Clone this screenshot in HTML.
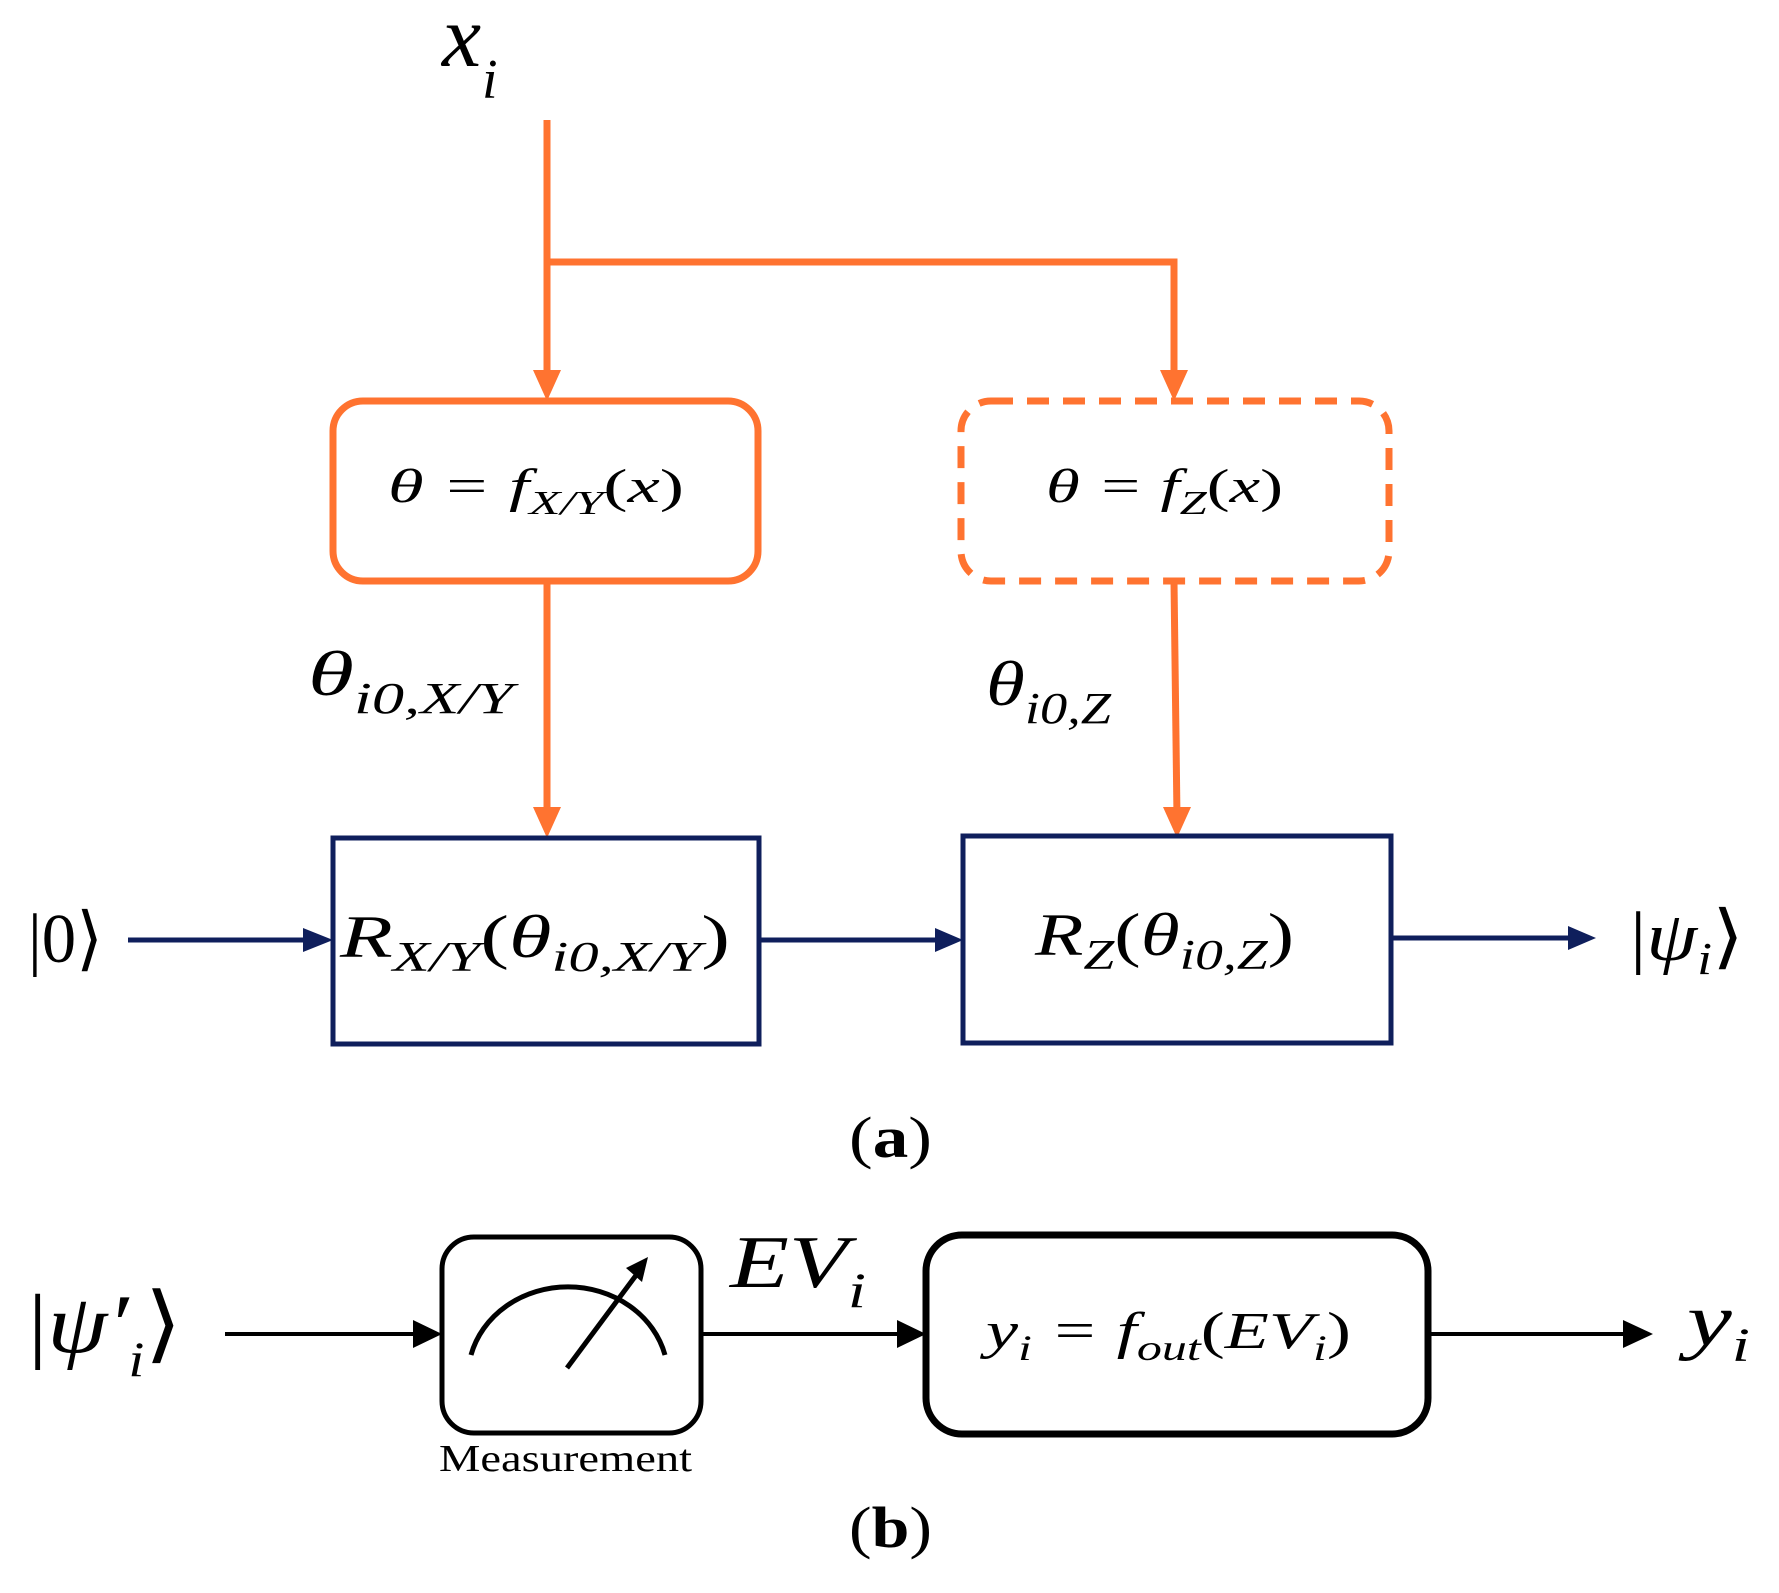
<!DOCTYPE html>
<html><head><meta charset="utf-8"><style>html,body{margin:0;padding:0;background:#fff}svg{display:block}</style></head>
<body>
<svg width="1779" height="1593" viewBox="0 0 1779 1593" xmlns="http://www.w3.org/2000/svg" font-family="Liberation Serif, serif">
<g stroke="#ff7330" stroke-width="7" fill="none">
<path d="M547 120 V380"/><path d="M547 262 H1174 V380"/>
<path d="M547 581 V818"/><path d="M1174 581 L1177 818"/>
<rect x="333" y="401" width="425" height="180" rx="30"/>
<rect x="961" y="401" width="428" height="180" rx="30" stroke-dasharray="22 14"/>
</g>
<g fill="#ff7330">
<path d="M533 370 L547 401 L561 370z"/><path d="M1160 370 L1174 401 L1188 370z"/>
<path d="M533 807 L547 838 L561 807z"/><path d="M1163 807 L1177 838 L1191 807z"/>
</g>
<g stroke="#0f1f5c" stroke-width="5" fill="none">
<rect x="333" y="838" width="426" height="206"/>
<rect x="963" y="836" width="428" height="207"/>
<path d="M128 940 H305"/><path d="M759 940 H937"/><path d="M1391 938 H1570"/>
</g>
<g fill="#0f1f5c">
<path d="M303 928 L333 940 L303 952z"/><path d="M935 928 L963 940 L935 952z"/><path d="M1568 926 L1596 938 L1568 950z"/>
</g>
<g stroke="#000" fill="none">
<rect x="442" y="1237" width="259" height="196" rx="32" stroke-width="5"/>
<rect x="926" y="1235" width="502" height="199" rx="36" stroke-width="7"/>
<path d="M225 1334 H415" stroke-width="4"/><path d="M701 1334 H900" stroke-width="4"/><path d="M1428 1334 H1625" stroke-width="4"/>
<path d="M471 1355 A100 90 0 0 1 665 1355" stroke-width="5"/>
<path d="M567 1368 L640 1270" stroke-width="5"/>
</g>
<g fill="#000">
<path d="M413 1320 L442 1334 L413 1348z"/><path d="M897 1320 L926 1334 L897 1348z"/><path d="M1623 1320 L1653 1334 L1623 1348z"/>
<path d="M648 1257 L626 1268 L642 1282z"/>
</g>
<g font-style="italic" fill="#000" lengthAdjust="spacingAndGlyphs">
<text x="442" y="66" font-size="88">x</text><text x="482" y="98" font-size="56">i</text>
<text x="388" y="502" font-size="48" textLength="296" lengthAdjust="spacingAndGlyphs">θ = f<tspan font-size="34" dy="12">X/Y</tspan><tspan dy="-12" font-style="normal">(</tspan>x<tspan font-style="normal">)</tspan></text>
<text x="1046" y="502" font-size="48" textLength="237" lengthAdjust="spacingAndGlyphs">θ = f<tspan font-size="34" dy="12">Z</tspan><tspan dy="-12" font-style="normal">(</tspan>x<tspan font-style="normal">)</tspan></text>
<text x="308" y="695" font-size="64" textLength="205" lengthAdjust="spacingAndGlyphs">θ<tspan font-size="44" dy="18">i0,X/Y</tspan></text>
<text x="986" y="705" font-size="64" textLength="125" lengthAdjust="spacingAndGlyphs">θ<tspan font-size="44" dy="18">i0,Z</tspan></text>
<text x="340" y="957" font-size="60" textLength="390" lengthAdjust="spacingAndGlyphs">R<tspan font-size="42" dy="14">X/Y</tspan><tspan dy="-14" font-style="normal">(</tspan>θ<tspan font-size="42" dy="14">i0,X/Y</tspan><tspan dy="-14" font-style="normal">)</tspan></text>
<text x="1035" y="955" font-size="60" textLength="259" lengthAdjust="spacingAndGlyphs">R<tspan font-size="42" dy="14">Z</tspan><tspan dy="-14" font-style="normal">(</tspan>θ<tspan font-size="42" dy="14">i0,Z</tspan><tspan dy="-14" font-style="normal">)</tspan></text>
<text x="28" y="962" font-size="70" font-style="normal" textLength="75" lengthAdjust="spacingAndGlyphs">|0⟩</text>
<text x="1630" y="960" font-size="70" textLength="114" lengthAdjust="spacingAndGlyphs"><tspan font-style="normal">|</tspan>ψ<tspan font-size="46" dy="14">i</tspan><tspan dy="-14" font-style="normal">⟩</tspan></text>
<text x="28" y="1352" font-size="84" textLength="154" lengthAdjust="spacingAndGlyphs"><tspan font-style="normal">|</tspan>ψ′<tspan font-size="50" dy="24">i</tspan><tspan dy="-24" font-style="normal">⟩</tspan></text>
<text x="730" y="1287" font-size="74" textLength="136" lengthAdjust="spacingAndGlyphs">EV<tspan font-size="50" dy="20">i</tspan></text>
<text x="986" y="1348" font-size="52" textLength="365" lengthAdjust="spacingAndGlyphs">y<tspan font-size="36" dy="12">i</tspan><tspan dy="-12"> = f</tspan><tspan font-size="36" dy="12">out</tspan><tspan dy="-12" font-style="normal">(</tspan>EV<tspan font-size="36" dy="12">i</tspan><tspan dy="-12" font-style="normal">)</tspan></text>
<text x="1687" y="1345" font-size="74" textLength="63" lengthAdjust="spacingAndGlyphs">y<tspan font-size="48" dy="16">i</tspan></text>
</g>
<text x="849" y="1157" font-size="58" textLength="83" lengthAdjust="spacingAndGlyphs"><tspan>(</tspan><tspan font-weight="bold">a</tspan><tspan>)</tspan></text>
<text x="849" y="1547" font-size="58" textLength="83" lengthAdjust="spacingAndGlyphs"><tspan>(</tspan><tspan font-weight="bold">b</tspan><tspan>)</tspan></text>
<text x="439" y="1471" font-size="38" textLength="253" lengthAdjust="spacingAndGlyphs">Measurement</text>
</svg>
</body></html>
